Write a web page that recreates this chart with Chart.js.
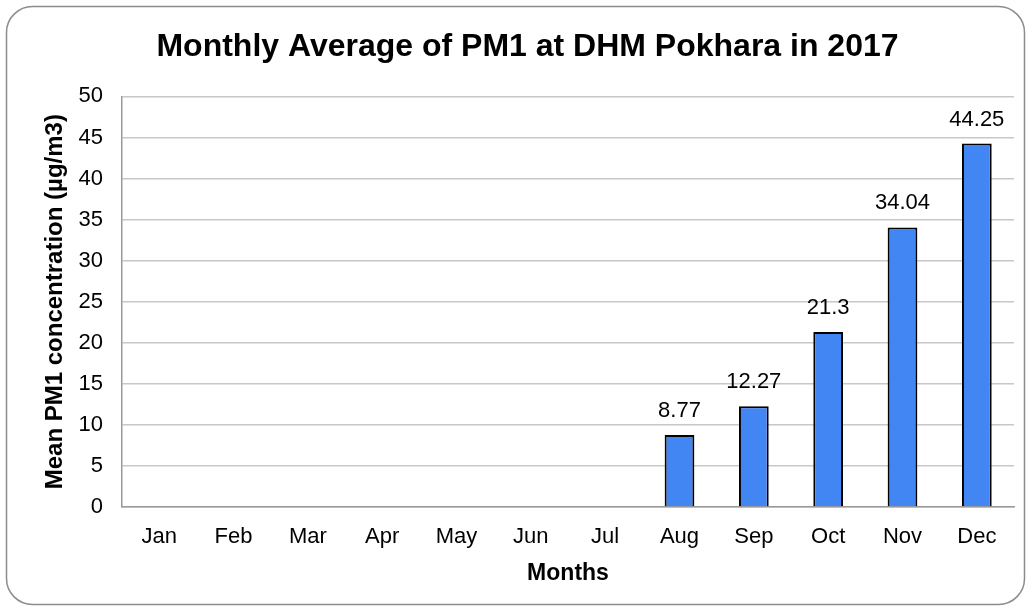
<!DOCTYPE html>
<html>
<head>
<meta charset="utf-8">
<script src="https://cdn.jsdelivr.net/npm/chart.js@4"></script>
<style>
  html, body { margin: 0; padding: 0; background: #fff; }
  #chart { display: block; }
</style>
</head>
<body>
<canvas id="chart" width="1031" height="611"></canvas>
<script>
// months and monthly PM1 means (no data before August)
const months = ['Jan', 'Feb', 'Mar', 'Apr', 'May', 'Jun', 'Jul', 'Aug', 'Sep', 'Oct', 'Nov', 'Dec'];
const pm1Values = [null, null, null, null, null, null, null, 8.77, 12.27, 21.3, 34.04, 44.25];
const yTicks = [0, 5, 10, 15, 20, 25, 30, 35, 40, 45, 50];

const FONT = 'Liberation Sans, Arial, sans-serif';

// rounded frame round the whole chart
const frame = {
    id: 'frame',
    beforeDraw(chart) {
        const ctx = chart.ctx;
        ctx.save();
        ctx.fillStyle = '#fff';
        ctx.fillRect(0, 0, chart.width, chart.height);
        ctx.beginPath();
        ctx.roundRect(6.5, 6.5, 1018, 598, 26);
        ctx.strokeStyle = '#8c8c8c';
        ctx.lineWidth = 1.5;
        ctx.stroke();
        ctx.restore();
    }
};

// value labels above the bars
const barLabels = {
    id: 'barLabels',
    afterDatasetsDraw(chart) {
        const ctx = chart.ctx;
        const meta = chart.getDatasetMeta(0);
        ctx.save();
        ctx.font = '22px ' + FONT;
        ctx.fillStyle = '#000';
        ctx.textAlign = 'center';
        ctx.textBaseline = 'alphabetic';
        meta.data.forEach(function(bar, i) {
            const v = pm1Values[i];
            if (v === null) return;
            ctx.fillText(String(v), bar.x, bar.y - 18);
        });
        ctx.restore();
    }
};

new Chart(document.getElementById('chart'), {
    type: 'bar',
    data: {
        labels: months,
        datasets: [{
            data: pm1Values,
            backgroundColor: '#4286f4',
            borderColor: '#000',
            borderWidth: 2,
            borderSkipped: 'bottom',
            barPercentage: 0.4,
            categoryPercentage: 1.0
        }]
    },
    options: {
        responsive: false,
        animation: false,
        layout: { padding: { left: 41, right: 17, top: 0, bottom: 20 } },
        plugins: {
            legend: { display: false },
            tooltip: { enabled: false },
            title: {
                display: true,
                text: 'Monthly Average of PM1 at DHM Pokhara in 2017',
                color: '#000',
                font: { family: FONT, size: 32, weight: 'bold' },
                padding: { top: 28, bottom: 30 }
            }
        },
        scales: {
            x: {
                grid: { display: false, drawTicks: false },
                border: { color: '#999', width: 1.5 },
                ticks: { color: '#000', font: { family: FONT, size: 22 }, padding: 17 },
                title: {
                    display: true, text: 'Months', color: '#000',
                    font: { family: FONT, size: 23, weight: 'bold' }, padding: { top: 10, bottom: 4 }
                },
                afterFit: function(axis) { axis.height = 84; }
            },
            y: {
                min: 0, max: 50,
                afterBuildTicks: function(axis) {
                    axis.ticks = yTicks.map(function(v) { return { value: v }; });
                },
                grid: { color: '#c8c8c8', lineWidth: 1.5, drawTicks: false },
                border: { color: '#999', width: 1.5 },
                ticks: { color: '#000', font: { family: FONT, size: 22 }, padding: 19 },
                title: {
                    display: true, text: 'Mean PM1 concentration (µg/m3)', color: '#000',
                    font: { family: FONT, size: 24, weight: 'bold' }, padding: { top: 0, bottom: 8 }
                },
                afterFit: function(axis) { axis.width = 81; }
            }
        }
    },
    plugins: [frame, barLabels]
});
</script>
</body>
</html>
